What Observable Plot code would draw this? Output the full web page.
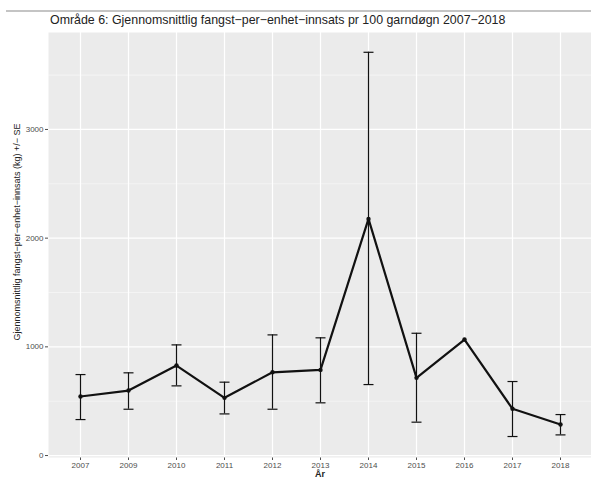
<!DOCTYPE html>
<html>
<head>
<meta charset="utf-8">
<script src="https://cdn.jsdelivr.net/npm/d3@7"></script>
<script src="https://cdn.jsdelivr.net/npm/@observablehq/plot@0.6"></script>
<style>
  body { margin: 0; background: #fff; font-family: "Liberation Sans", Arial, sans-serif; }
  #wrap { position: relative; width: 591px; height: 479px; overflow: hidden; }
  #topline { position: absolute; left: 6px; right: 0; top: 10px; height: 2px; background: #c4c4c4; }
  #title { position: absolute; left: 50px; top: 13px; font-size: 12.4px; line-height: 14px; color: #222; white-space: nowrap; }
  #ylab { position: absolute; left: 17px; top: 232px; font-size: 9px; color: #222; white-space: nowrap;
          transform: translate(-50%, -50%) rotate(-90deg); }
  #xlab { position: absolute; left: 320px; top: 474px; font-size: 9px; font-weight: bold; color: #222;
          transform: translate(-50%, -50%); }
  #chart { position: absolute; left: 0; top: 0; }
</style>
</head>
<body>
<div id="wrap">
  <div id="chart"></div>
  <div id="topline"></div>
  <div id="title">Område 6: Gjennomsnittlig fangst−per−enhet−innsats pr 100 garndøgn 2007−2018</div>
  <div id="ylab">Gjennomsnittlig fangst−per−enhet−innsats (kg) +/− SE</div>
  <div id="xlab">År</div>
</div>
<script>
const years = ["2007","2009","2010","2011","2012","2013","2014","2015","2016","2017","2018"];
const means = [543, 598, 828, 531, 766, 788, 2177, 715, 1067, 430, 285];
const upper = [745, 761, 1018, 675, 1110, 1083, 3710, 1125, null, 681, 377];
const lower = [331, 426, 641, 383, 426, 485, 653, 307, null, 175, 190];
const majorTicks = [0, 1000, 2000, 3000];
const minorTicks = [500, 1500, 2500, 3500];

const data = years.map((y, i) => ({year: y, mean: means[i], hi: upper[i], lo: lower[i]}));
const errs = data.filter(d => d.hi != null);

const cap = {
  draw(ctx, size) {
    const w = Math.sqrt(size / Math.PI);
    ctx.moveTo(-w, 0);
    ctx.lineTo(w, 0);
  }
};

const chart = Plot.plot({
  width: 591,
  height: 479,
  marginTop: 32,
  marginBottom: 22,
  marginLeft: 48,
  marginRight: 0,
  style: {fontFamily: "Liberation Sans, Arial, sans-serif", fontSize: "8px", color: "#4d4d4d", background: "transparent"},
  x: {type: "point", domain: years, padding: 0.6, label: null, tickSize: 3, tickPadding: 2},
  y: {domain: [-18, 3892], ticks: majorTicks, tickSize: 3, tickPadding: 2, label: null, tickFormat: d => String(d)},
  marks: [
    Plot.frame({fill: "#ebebeb", stroke: "none"}),
    Plot.ruleY(minorTicks, {stroke: "#fafafa", strokeWidth: 0.6}),
    Plot.ruleY(majorTicks, {stroke: "white", strokeWidth: 1.2}),
    Plot.ruleX(years, {stroke: "white", strokeWidth: 1.2}),
    Plot.ruleX(errs, {x: "year", y1: "lo", y2: "hi", stroke: "#111", strokeWidth: 1.2}),
    Plot.dot(errs, {x: "year", y: "hi", symbol: cap, r: 5, fill: "none", stroke: "#111", strokeWidth: 1.2}),
    Plot.dot(errs, {x: "year", y: "lo", symbol: cap, r: 5, fill: "none", stroke: "#111", strokeWidth: 1.2}),
    Plot.line(data, {x: "year", y: "mean", stroke: "#111", strokeWidth: 2.2}),
    Plot.dot(data, {x: "year", y: "mean", r: 2.2, fill: "#111", stroke: "none"})
  ]
});
document.getElementById("chart").appendChild(chart);
</script>
</body>
</html>
